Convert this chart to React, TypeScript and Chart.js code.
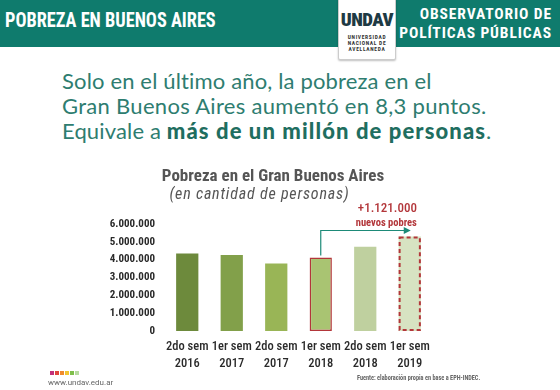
import React, { useEffect, useRef } from "react";
import { Chart, registerables } from "chart.js";

Chart.register(...registerables);

const categories: string[][] = [
  ["2do sem", "2016"],
  ["1er sem", "2017"],
  ["2do sem", "2017"],
  ["1er sem", "2018"],
  ["2do sem", "2018"],
  ["1er sem", "2019"],
];
const values: number[] = [4350000, 4260000, 3790000, 4120000, 4720000, 5300000];
const barColors: string[] = ["#6d8a3c", "#82a04a", "#99b556", "#a9c472", "#bfd09f", "#d7e3c2"];
const yMax = 6000000;
const yStep = 1000000;
const increaseLabel = "+1.121.000";
const increaseSub = "nuevos pobres";

const RED = "#b3363a";
const TEAL = "#1d8a78";
const FAM = "Roboto, sans-serif";

function fmt(v: number): string {
  return String(Math.round(v)).replace(/\B(?=(\d{3})+(?!\d))/g, ".");
}

const annotPlugin = {
  id: "annot",
  afterDatasetsDraw(chart: any) {
    const ctx = chart.ctx as CanvasRenderingContext2D;
    const meta = chart.getDatasetMeta(0);
    const b4 = meta.data[3].getProps(["x", "y", "base", "width"], true);
    const b6 = meta.data[5].getProps(["x", "y", "base", "width"], true);
    ctx.save();
    ctx.setLineDash([4, 3]);
    ctx.strokeStyle = RED;
    ctx.lineWidth = 2;
    ctx.strokeRect(b6.x - b6.width / 2 + 1, b6.y + 1, b6.width - 2, b6.base - b6.y - 2);
    ctx.setLineDash([]);
    const ay = b6.y - 6;
    ctx.strokeStyle = TEAL;
    ctx.lineWidth = 1.2;
    ctx.beginPath();
    ctx.moveTo(b4.x, b4.y - 2);
    ctx.lineTo(b4.x, ay);
    ctx.lineTo(b6.x - 4, ay);
    ctx.stroke();
    ctx.fillStyle = TEAL;
    ctx.beginPath();
    ctx.moveTo(b6.x + 1, ay);
    ctx.lineTo(b6.x - 6, ay - 3.5);
    ctx.lineTo(b6.x - 6, ay + 3.5);
    ctx.closePath();
    ctx.fill();
    ctx.fillStyle = RED;
    ctx.textAlign = "right";
    ctx.textBaseline = "middle";
    ctx.font = `condensed 500 13px ${FAM}`;
    ctx.fillText(increaseLabel, b6.x + b6.width / 2 - 4, b6.y - 28);
    ctx.font = `condensed bold 10.5px ${FAM}`;
    ctx.fillText(increaseSub, b6.x + b6.width / 2 - 4, b6.y - 13);
    ctx.restore();
  },
};

export default function App() {
  const ref = useRef<HTMLCanvasElement>(null);
  useEffect(() => {
    const chart = new Chart(ref.current!, {
      type: "bar",
      data: {
        labels: categories,
        datasets: [
          {
            data: values,
            backgroundColor: barColors,
            borderColor: barColors.map((c, i) => (i === 3 ? RED : c)),
            borderWidth: barColors.map((c, i) => (i === 3 ? 1.5 : 0)),
            borderSkipped: false,
            categoryPercentage: 1,
            barPercentage: 0.5,
          },
        ],
      },
      options: {
        animation: false,
        responsive: false,
        maintainAspectRatio: false,
        layout: { padding: { top: 224, right: 128, bottom: 9, left: 0 } },
        plugins: { legend: { display: false }, tooltip: { enabled: false } },
        scales: {
          x: {
            grid: { display: false, drawTicks: false },
            border: { display: false },
            ticks: {
              color: "#2a2a2a",
              padding: 7,
              autoSkip: false,
              maxRotation: 0,
              font: { family: FAM, size: 12.5, weight: "condensed 500", lineHeight: 1.4 },
            },
            afterFit(s: any) {
              s.height = 50;
            },
          },
          y: {
            min: 0,
            max: yMax,
            grid: { display: false, drawTicks: false },
            border: { display: false },
            ticks: {
              stepSize: yStep,
              color: "#2a2a2a",
              padding: 10,
              font: { family: FAM, size: 11, weight: "condensed bold" },
              callback: (v: any) => fmt(Number(v)),
            },
            afterFit(s: any) {
              s.width = 165;
            },
          },
        },
      },
      plugins: [annotPlugin],
    } as any);
    return () => chart.destroy();
  }, []);

  const dots = ["#c2317a", "#e0453a", "#f08a2c", "#f2c530", "#7fbf4a", "#b7dba0"];
  const cond: React.CSSProperties = { fontFamily: FAM, fontStretch: "condensed", whiteSpace: "nowrap" };

  return (
    <div style={{ position: "fixed", left: 0, top: 0, width: 560, height: 390, background: "#fff", overflow: "hidden" }}>
      <div style={{ position: "absolute", left: 0, top: 0, width: 560, height: 47, background: "#0f7b6d" }} />
      <div
        style={{
          ...cond, position: "absolute", left: 5, top: 7, color: "#fff", fontWeight: "bold", fontSize: 21,
          lineHeight: "26px", transform: "scaleX(0.87)", transformOrigin: "left center",
        }}
      >
        POBREZA EN BUENOS AIRES
      </div>
      <div
        style={{
          ...cond, position: "absolute", right: 8, top: 5, color: "#fff", fontWeight: "bold",
          fontSize: 15.5, lineHeight: "19px", textAlign: "right", letterSpacing: 0.9,
        }}
      >
        OBSERVATORIO DE<br />POLÍTICAS PÚBLICAS
      </div>
      <div
        style={{
          position: "absolute", left: 338, top: -2, width: 56, height: 60, background: "#fff",
          border: "1px solid #ccc", borderRadius: 2, boxShadow: "0 1px 2px rgba(0,0,0,0.25)",
        }}
      >
        <div style={{ ...cond, position: "absolute", left: 0, width: 56, top: 11, textAlign: "center", fontWeight: 900, fontSize: 19, color: "#1e3a44", letterSpacing: -0.5, lineHeight: "20px" }}>
          UNDAV
        </div>
        <div style={{ ...cond, position: "absolute", left: 0, width: 56, top: 35, textAlign: "center", fontWeight: "bold", fontSize: 5.5, color: "#333", lineHeight: "6px", letterSpacing: 0.7 }}>
          UNIVERSIDAD<br />NACIONAL DE<br />AVELLANEDA
        </div>
      </div>
      <div
        style={{
          position: "absolute", left: 62, top: 68, color: "#2e7d70", fontFamily: "Lato, sans-serif",
          fontSize: 22, lineHeight: "25px", whiteSpace: "nowrap", letterSpacing: 0.15,
        }}
      >
        Solo en el último año, la pobreza en el<br />
        <span style={{ letterSpacing: 0.3 }}>Gran Buenos Aires aumentó en 8,3 puntos.</span><br />
        Equivale a <b style={{ color: "#1f6e60", fontWeight: 900, letterSpacing: 1.1 }}>más de un millón de personas</b>.
      </div>
      <canvas ref={ref} width={560} height={390} style={{ position: "absolute", left: 0, top: 0 }} />
      <div style={{ ...cond, position: "absolute", left: 0, width: 546, top: 165, textAlign: "center", fontWeight: "bold", fontSize: 17, color: "#555" }}>
        Pobreza en el Gran Buenos Aires
      </div>
      <div style={{ ...cond, position: "absolute", left: 0, width: 519, top: 184, textAlign: "center", fontStyle: "italic", fontSize: 16, color: "#555", letterSpacing: 0.8 }}>
        (en cantidad de personas)
      </div>
      <div style={{ position: "absolute", left: 50, top: 371, display: "flex", gap: 1.5 }}>
        {dots.map((c) => (
          <div key={c} style={{ width: 3.5, height: 3.5, background: c }} />
        ))}
      </div>
      <div style={{ position: "absolute", left: 48, top: 378, fontFamily: FAM, fontSize: 8, color: "#666", whiteSpace: "nowrap" }}>
        www.undav.edu.ar
      </div>
      <div
        style={{
          ...cond, position: "absolute", left: 357, top: 373, fontWeight: "bold", fontSize: 8, color: "#666",
          transform: "scaleX(0.78)", transformOrigin: "left center",
        }}
      >
        Fuente: elaboración propia en base a EPH-INDEC.
      </div>
    </div>
  );
}
